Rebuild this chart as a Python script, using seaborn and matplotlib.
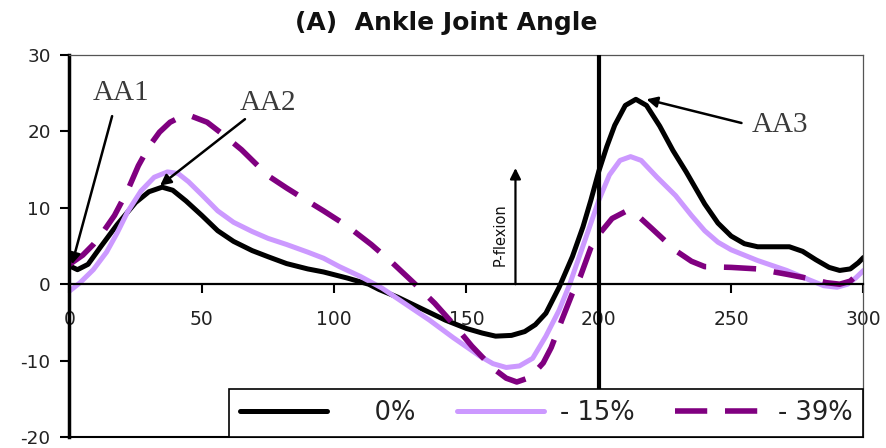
import matplotlib
matplotlib.use("Agg")
import matplotlib.pyplot as plt
import seaborn as sns
import pandas as pd

# ---------------- data ----------------
x_0 = [0, 3, 7, 12, 18, 25, 30, 35, 39, 44, 50, 56, 62, 69, 75, 82, 90, 96, 105, 113,
       117, 124, 133, 142, 150, 156, 161, 167, 172, 176, 180, 185, 190, 194, 197, 200,
       203, 206, 210, 214, 218, 223, 228, 233, 240, 245, 250, 255, 260, 266, 272, 277,
       282, 287, 291, 295, 298, 300]
y_0 = [2.4, 1.9, 2.6, 5.0, 7.8, 10.7, 12.1, 12.7, 12.3, 10.9, 9.0, 7.0, 5.6, 4.4, 3.6,
       2.7, 2.0, 1.6, 0.8, 0.0, -0.7, -1.7, -3.2, -4.7, -5.8, -6.4, -6.8, -6.7, -6.2,
       -5.3, -3.8, -0.4, 3.6, 7.5, 11.0, 14.8, 18.0, 20.8, 23.4, 24.2, 23.4, 20.7, 17.5,
       14.7, 10.5, 8.0, 6.3, 5.3, 4.9, 4.9, 4.9, 4.3, 3.2, 2.2, 1.8, 2.0, 2.8, 3.5]

x_15 = [0, 4, 9, 14, 18, 22, 27, 32, 37, 41, 45, 50, 56, 62, 69, 75, 82, 90, 96, 102,
        110, 118, 127, 136, 145, 155, 160, 165, 170, 175, 180, 185, 189, 193, 197, 200,
        204, 208, 212, 216, 222, 229, 235, 240, 245, 250, 260, 271, 280, 285, 290, 294,
        297, 300]
y_15 = [-0.9, 0.2, 1.9, 4.2, 6.7, 9.5, 12.2, 14.0, 14.7, 14.5, 13.4, 11.7, 9.6, 8.1,
        6.9, 6.0, 5.2, 4.2, 3.4, 2.3, 1.0, -0.5, -2.6, -4.7, -7.0, -9.4, -10.4, -10.9,
        -10.7, -9.7, -6.8, -3.4, 0.0, 4.0, 8.0, 11.0, 14.3, 16.2, 16.7, 16.2, 14.0, 11.6,
        9.0, 7.0, 5.5, 4.5, 3.1, 1.8, 0.5, -0.2, -0.4, 0.0, 0.8, 1.8]

x_39 = [0, 5, 9, 13, 17, 22, 26, 30, 34, 38, 42, 46, 52, 58, 65, 70, 75, 82, 88, 96,
        105, 114, 122, 130, 138, 146, 152, 160, 165, 169, 174, 179, 182, 186, 190, 193,
        197, 200, 205, 210, 214, 220, 229, 235, 240, 250, 260, 271, 280, 286, 291, 295,
        300]
y_39 = [2.6, 3.8, 5.2, 7.0, 9.0, 12.3, 15.5, 18.0, 19.9, 21.2, 21.9, 22.0, 21.2, 19.6,
        17.6, 15.9, 14.2, 12.6, 11.3, 9.6, 7.6, 5.2, 2.8, 0.2, -2.5, -5.6, -8.1, -11.0,
        -12.3, -12.8, -12.2, -10.3, -8.3, -4.7, -1.2, 1.0, 4.8, 6.5, 8.6, 9.5, 9.2, 7.3,
        4.4, 3.0, 2.3, 2.2, 2.0, 1.3, 0.7, 0.2, 0.0, 0.4, 2.0]

series_labels = ["    0%", "- 15%", "- 39%"]
x_ticks = [0, 50, 100, 150, 200, 250, 300]
y_ticks = [-20, -10, 0, 10, 20, 30]
title = "(A)  Ankle Joint Angle"

# ---------------- style ----------------
sns.set_style("white")
plt.rcParams["font.family"] = ["DejaVu Sans"]
plt.rcParams["axes.unicode_minus"] = False

fig = plt.figure(figsize=(8.87, 4.48), dpi=100)
ax = fig.add_axes([69.5 / 887, 11 / 448, 794 / 887, 382 / 448])

sns.lineplot(x=x_0, y=y_0, ax=ax, color="black", lw=3.6, label=series_labels[0],
             estimator=None, sort=False, solid_joinstyle="round", solid_capstyle="round")
sns.lineplot(x=x_15, y=y_15, ax=ax, color="#CC99FF", lw=3.6, label=series_labels[1],
             estimator=None, sort=False, solid_joinstyle="round", solid_capstyle="round")
sns.lineplot(x=x_39, y=y_39, ax=ax, color="#800080", lw=4.0, label=series_labels[2],
             estimator=None, sort=False, linestyle=(0, (5.8, 3.2)))

ax.set_xlim(0, 300)
ax.set_ylim(-20, 30)
ax.set_xticks(x_ticks)
ax.set_yticks(y_ticks)
ax.set_xticklabels([str(v) for v in x_ticks])
ax.set_yticklabels([str(v) for v in y_ticks])
ax.set_xlabel("")
ax.set_ylabel("")

# spines
ax.spines["bottom"].set_position(("data", 0))
ax.spines["bottom"].set_linewidth(1.6)
ax.spines["bottom"].set_color("black")
ax.spines["left"].set_linewidth(2.5)
ax.spines["left"].set_color("black")
for s in ("top", "right"):
    ax.spines[s].set_visible(True)
    ax.spines[s].set_linewidth(0.9)
    ax.spines[s].set_color("#555555")
ax.axhline(-20, color="black", lw=1.5, clip_on=False, zorder=5)

ax.tick_params(axis="x", direction="out", length=6.5, width=1.5, pad=12,
               labelsize=13.5, labelcolor="#222222", color="black", bottom=True)
ax.tick_params(axis="y", direction="out", length=6.5, width=1.5, pad=7,
               labelsize=13.2, labelcolor="#222222", color="black", left=True)

# vertical line at 200
ax.axvline(200, color="black", lw=3.0, zorder=4)

# P-flexion arrow and text
ax.annotate("", xy=(168.5, 15.2), xytext=(168.5, 0),
            arrowprops=dict(arrowstyle="-|>", color="black", lw=1.6, mutation_scale=16,
                            shrinkA=0, shrinkB=0))
ax.text(162.6, 6.5, "P-flexion", rotation=90, ha="center", va="center",
        fontsize=10.5, color="#111111")

# AA annotations
ann_kw = dict(arrowstyle="-|>", color="black", lw=1.8, mutation_scale=16,
              shrinkA=0, shrinkB=0)
ax.annotate("", xy=(0.9, 2.6), xytext=(16.1, 22.0), arrowprops=ann_kw, annotation_clip=False)
ax.annotate("", xy=(34.2, 12.9), xytext=(66.3, 21.6), arrowprops=ann_kw)
ax.annotate("", xy=(218.0, 24.2), xytext=(253.9, 21.1), arrowprops=ann_kw)
serif = dict(fontsize=21, family="Liberation Serif", color="#3a3a3a",
             ha="center", va="center")
ax.text(19.4, 25.0, "AA1", **serif)
ax.text(74.8, 23.7, "AA2", **serif)
ax.text(268.3, 20.9, "AA3", **serif)

# legend
leg = ax.legend(loc="lower right", bbox_to_anchor=(1.0, 0.0), ncol=3, frameon=True,
                fancybox=False, borderaxespad=0, fontsize=18.5, handlelength=3.4,
                handletextpad=0.6, columnspacing=1.6, borderpad=0.42)
leg.get_frame().set_edgecolor("black")
leg.get_frame().set_linewidth(1.2)
leg.get_frame().set_facecolor("white")
leg.get_frame().set_alpha(1)
leg.set_zorder(10)
for t in leg.get_texts():
    t.set_color("#222222")

fig.text(446.5 / 887, 1 - 23 / 448, title, ha="center", va="center",
         fontsize=18, fontweight="bold", color="#111111")

fig.savefig("out.png", dpi=100)
